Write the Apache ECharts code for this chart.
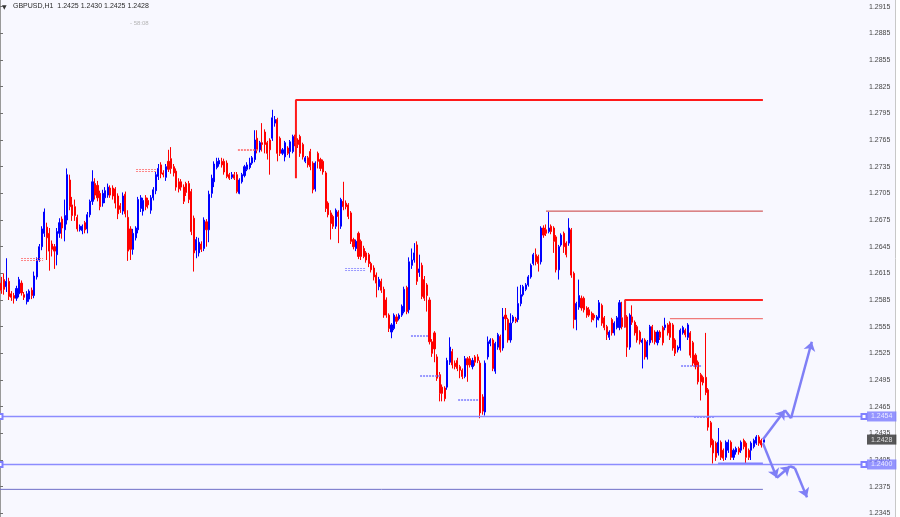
<!DOCTYPE html>
<html><head><meta charset="utf-8">
<script src="https://cdn.jsdelivr.net/npm/echarts@6/dist/echarts.min.js"></script>
<style>html,body{margin:0;padding:0;background:#f8f8ff}#c{width:900px;height:517px}</style>
</head><body><div id="c"></div>
<script>
// Candles as [open, close, low, high]
const seg1 = [
[1.2604,1.2596,1.2592,1.2611],[1.2608,1.2597,1.2591,1.2615],[1.2600,1.2606,1.2594,1.2632],[1.2606,1.2589,1.2585,1.2610],
[1.2592,1.2588,1.2584,1.2595],[1.2590,1.2587,1.2581,1.2593],[1.2587,1.2598,1.2584,1.2601],[1.2592,1.2608,1.2588,1.2611],
[1.2604,1.2593,1.2590,1.2607],[1.2591,1.2588,1.2585,1.2594],[1.2583,1.2592,1.2580,1.2595],[1.2586,1.2595,1.2583,1.2597],
[1.2596,1.2590,1.2586,1.2599],[1.2590,1.2612,1.2587,1.2617],[1.2611,1.2630,1.2608,1.2633],[1.2630,1.2645,1.2628,1.2648],
[1.2645,1.2665,1.2641,1.2668],[1.2660,1.2684,1.2656,1.2688],[1.2667,1.2655,1.2630,1.2672],[1.2660,1.2640,1.2618,1.2666],
[1.2648,1.2642,1.2634,1.2652],[1.2645,1.2640,1.2620,1.2648],[1.2636,1.2662,1.2624,1.2666],[1.2660,1.2672,1.2655,1.2677],
[1.2676,1.2666,1.2654,1.2679],[1.2664,1.2680,1.2651,1.2698],[1.2675,1.2726,1.2670,1.2733],[1.2720,1.2690,1.2686,1.2726],
[1.2692,1.2680,1.2674,1.2701],[1.2690,1.2680,1.2674,1.2698],[1.2678,1.2665,1.2662,1.2681],[1.2664,1.2668,1.2662,1.2670],
[1.2663,1.2668,1.2659,1.2670],[1.2672,1.2664,1.2660,1.2674],[1.2665,1.2681,1.2660,1.2684],[1.2681,1.2696,1.2678,1.2698],
[1.2696,1.2718,1.2692,1.2731],[1.2716,1.2703,1.2698,1.2722],[1.2714,1.2700,1.2696,1.2719],[1.2705,1.2690,1.2686,1.2708],
[1.2694,1.2705,1.2690,1.2709],[1.2700,1.2708,1.2694,1.2712],[1.2703,1.2712,1.2700,1.2716],[1.2711,1.2703,1.2700,1.2714],
[1.2711,1.2702,1.2698,1.2714],[1.2710,1.2694,1.2688,1.2712],[1.2702,1.2682,1.2676,1.2705],[1.2691,1.2687,1.2683,1.2694],
[1.2685,1.2702,1.2681,1.2706],[1.2704,1.2682,1.2678,1.2707],[1.2678,1.2640,1.2629,1.2686],[1.2665,1.2642,1.2630,1.2668],
[1.2642,1.2660,1.2636,1.2665],[1.2655,1.2666,1.2652,1.2668],[1.2664,1.2698,1.2660,1.2701],[1.2688,1.2700,1.2684,1.2703],
[1.2685,1.2697,1.2680,1.2700],[1.2700,1.2690,1.2686,1.2703],[1.2697,1.2692,1.2688,1.2700],[1.2686,1.2700,1.2682,1.2703],
[1.2700,1.2709,1.2697,1.2712],[1.2708,1.2726,1.2704,1.2729],[1.2724,1.2733,1.2720,1.2738],[1.2737,1.2727,1.2722,1.2740],
[1.2728,1.2726,1.2723,1.2731],[1.2723,1.2735,1.2719,1.2738],[1.2741,1.2732,1.2729,1.2754],[1.2744,1.2733,1.2727,1.2757],
[1.2735,1.2728,1.2724,1.2738],[1.2730,1.2712,1.2708,1.2733],[1.2718,1.2710,1.2706,1.2722],[1.2718,1.2712,1.2708,1.2721],
[1.2712,1.2696,1.2693,1.2715],[1.2716,1.2706,1.2702,1.2718],[1.2716,1.2698,1.2694,1.2719],[1.2707,1.2662,1.2658,1.2710],
[1.2677,1.2638,1.2617,1.2680],[1.2641,1.2653,1.2632,1.2656],[1.2638,1.2650,1.2634,1.2655],[1.2648,1.2642,1.2639,1.2651],
[1.2643,1.2675,1.2640,1.2678],[1.2673,1.2664,1.2645,1.2676],[1.2664,1.2704,1.2650,1.2708],[1.2705,1.2722,1.2700,1.2726],
[1.2718,1.2738,1.2712,1.2741],[1.2734,1.2741,1.2732,1.2745],[1.2738,1.2742,1.2735,1.2745]
];
const seg2 = [
[1.2741,1.2737,1.2734,1.2745],[1.2741,1.2729,1.2726,1.2744],[1.2739,1.2724,1.2722,1.2742],[1.2726,1.2722,1.2720,1.2728],
[1.2723,1.2726,1.2721,1.2729],[1.2726,1.2722,1.2720,1.2729],[1.2726,1.2707,1.2705,1.2729],[1.2705,1.2720,1.2704,1.2722],
[1.2718,1.2726,1.2716,1.2728],[1.2725,1.2735,1.2723,1.2737],[1.2732,1.2737,1.2730,1.2740],[1.2734,1.2739,1.2732,1.2745],
[1.2739,1.2745,1.2737,1.2747],[1.2743,1.2765,1.2740,1.2776],[1.2767,1.2754,1.2750,1.2776],[1.2754,1.2762,1.2751,1.2764],
[1.2762,1.2760,1.2752,1.2784],[1.2774,1.2760,1.2750,1.2777],[1.2762,1.2750,1.2743,1.2764],[1.2765,1.2754,1.2726,1.2767],
[1.2767,1.2790,1.2764,1.2799],[1.2784,1.2788,1.2780,1.2792],[1.2788,1.2750,1.2741,1.2790],[1.2767,1.2750,1.2747,1.2769],
[1.2750,1.2754,1.2748,1.2756],[1.2746,1.2762,1.2741,1.2764],[1.2756,1.2750,1.2748,1.2758],[1.2752,1.2763,1.2745,1.2765],
[1.2752,1.2769,1.2750,1.2771],[1.2769,1.2762,1.2758,1.2771],[1.2765,1.2760,1.2756,1.2767],[1.2769,1.2750,1.2746,1.2771],
[1.2760,1.2746,1.2743,1.2762],[1.2741,1.2745,1.2739,1.2747],[1.2745,1.2737,1.2734,1.2747],[1.2752,1.2735,1.2731,1.2755],
[1.2739,1.2709,1.2705,1.2741],[1.2710,1.2739,1.2707,1.2741],[1.2750,1.2741,1.2733,1.2752],[1.2743,1.2733,1.2730,1.2745],
[1.2741,1.2729,1.2726,1.2743],[1.2728,1.2688,1.2684,1.2730],[1.2694,1.2681,1.2678,1.2696],[1.2683,1.2671,1.2653,1.2686],
[1.2679,1.2668,1.2665,1.2681],[1.2668,1.2686,1.2665,1.2688],[1.2684,1.2679,1.2649,1.2686],[1.2668,1.2698,1.2665,1.2700],
[1.2696,1.2690,1.2686,1.2718],[1.2694,1.2690,1.2687,1.2697],[1.2692,1.2679,1.2676,1.2694],[1.2683,1.2651,1.2648,1.2685],
[1.2653,1.2645,1.2642,1.2655],[1.2643,1.2651,1.2640,1.2653],[1.2660,1.2634,1.2631,1.2662],[1.2651,1.2634,1.2630,1.2653],
[1.2643,1.2634,1.2632,1.2646],[1.2638,1.2630,1.2627,1.2640],[1.2636,1.2626,1.2622,1.2638],[1.2626,1.2619,1.2616,1.2628],
[1.2621,1.2611,1.2607,1.2624],[1.2613,1.2604,1.2588,1.2616],[1.2600,1.2608,1.2596,1.2611],[1.2606,1.2596,1.2593,1.2609]
];
const seg3 = [
[1.2597,1.2568,1.2565,1.2600],[1.2585,1.2568,1.2565,1.2588],[1.2568,1.2553,1.2549,1.2570],[1.2549,1.2557,1.2542,1.2559],
[1.2553,1.2568,1.2551,1.2570],[1.2566,1.2561,1.2558,1.2569],[1.2564,1.2568,1.2562,1.2570],[1.2568,1.2578,1.2566,1.2580],
[1.2572,1.2597,1.2570,1.2600],[1.2599,1.2572,1.2569,1.2601],[1.2574,1.2628,1.2570,1.2633],[1.2624,1.2630,1.2620,1.2643],
[1.2630,1.2638,1.2627,1.2649],[1.2647,1.2606,1.2602,1.2651],[1.2616,1.2620,1.2611,1.2636],[1.2624,1.2589,1.2586,1.2627],
[1.2608,1.2587,1.2584,1.2612],[1.2602,1.2590,1.2572,1.2604],[1.2585,1.2538,1.2535,1.2588],[1.2538,1.2525,1.2521,1.2541],
[1.2548,1.2530,1.2515,1.2550],[1.2521,1.2497,1.2494,1.2524],[1.2501,1.2480,1.2471,1.2504],[1.2487,1.2480,1.2471,1.2490],
[1.2486,1.2474,1.2471,1.2488],[1.2487,1.2517,1.2484,1.2520],[1.2515,1.2532,1.2512,1.2543],[1.2527,1.2512,1.2508,1.2530],
[1.2514,1.2510,1.2507,1.2517],[1.2517,1.2508,1.2505,1.2520],[1.2510,1.2506,1.2497,1.2512],[1.2506,1.2499,1.2496,1.2508],
[1.2499,1.2519,1.2497,1.2522],[1.2519,1.2512,1.2493,1.2521],[1.2519,1.2512,1.2509,1.2522],[1.2510,1.2517,1.2507,1.2520],
[1.2521,1.2515,1.2511,1.2523],[1.2521,1.2517,1.2514,1.2524],[1.2514,1.2458,1.2452,1.2517],[1.2476,1.2460,1.2456,1.2479],
[1.2459,1.2514,1.2455,1.2517],[1.2521,1.2538,1.2518,1.2544],[1.2536,1.2540,1.2533,1.2542],[1.2540,1.2508,1.2505,1.2542],
[1.2505,1.2536,1.2502,1.2538],[1.2532,1.2546,1.2529,1.2548],[1.2544,1.2529,1.2526,1.2546],[1.2531,1.2566,1.2528,1.2576],
[1.2568,1.2564,1.2551,1.2576],[1.2563,1.2540,1.2537,1.2565],[1.2540,1.2559,1.2537,1.2570],[1.2561,1.2566,1.2559,1.2568],
[1.2564,1.2561,1.2559,1.2566],[1.2563,1.2581,1.2560,1.2600],[1.2581,1.2591,1.2578,1.2602],[1.2591,1.2600,1.2589,1.2602],
[1.2597,1.2602,1.2595,1.2604],[1.2602,1.2611,1.2600,1.2613],[1.2611,1.2624,1.2609,1.2626],[1.2626,1.2636,1.2624,1.2638],
[1.2636,1.2628,1.2624,1.2643],[1.2634,1.2626,1.2617,1.2636],[1.2628,1.2666,1.2625,1.2668],[1.2666,1.2658,1.2655,1.2669],
[1.2664,1.2660,1.2657,1.2670],[1.2662,1.2666,1.2660,1.2684],[1.2668,1.2662,1.2659,1.2670],[1.2666,1.2651,1.2638,1.2668],
[1.2656,1.2619,1.2616,1.2658],[1.2619,1.2645,1.2608,1.2647],[1.2647,1.2658,1.2645,1.2660],[1.2660,1.2645,1.2638,1.2662],
[1.2649,1.2636,1.2633,1.2651],[1.2649,1.2666,1.2646,1.2677],[1.2664,1.2613,1.2610,1.2666],[1.2615,1.2563,1.2553,1.2617],
[1.2563,1.2581,1.2551,1.2583],[1.2577,1.2590,1.2574,1.2608]
];
const seg4 = [
[1.2587,1.2576,1.2573,1.2590],[1.2587,1.2574,1.2571,1.2589],[1.2576,1.2568,1.2565,1.2578],[1.2574,1.2568,1.2566,1.2577],
[1.2570,1.2563,1.2560,1.2572],[1.2568,1.2565,1.2562,1.2570],[1.2563,1.2566,1.2554,1.2568],[1.2565,1.2582,1.2562,1.2585],
[1.2579,1.2559,1.2556,1.2581],[1.2565,1.2554,1.2551,1.2567],[1.2555,1.2546,1.2540,1.2557],[1.2543,1.2549,1.2540,1.2551],
[1.2563,1.2548,1.2545,1.2565],[1.2548,1.2559,1.2545,1.2561],[1.2554,1.2565,1.2552,1.2567],[1.2554,1.2582,1.2551,1.2585],
[1.2565,1.2555,1.2552,1.2583],[1.2557,1.2566,1.2554,1.2568],[1.2566,1.2532,1.2521,1.2568],[1.2532,1.2568,1.2529,1.2570],
[1.2566,1.2560,1.2557,1.2579],[1.2560,1.2548,1.2545,1.2562],[1.2555,1.2540,1.2537,1.2557],[1.2549,1.2538,1.2535,1.2551],
[1.2537,1.2540,1.2508,1.2542],[1.2540,1.2521,1.2518,1.2542],[1.2521,1.2538,1.2518,1.2540],[1.2537,1.2555,1.2534,1.2557],
[1.2555,1.2540,1.2537,1.2557],[1.2549,1.2538,1.2535,1.2551],[1.2537,1.2549,1.2534,1.2551],[1.2549,1.2543,1.2540,1.2551],
[1.2554,1.2537,1.2534,1.2556],[1.2554,1.2557,1.2551,1.2565],[1.2557,1.2548,1.2545,1.2559],[1.2559,1.2543,1.2540,1.2561],
[1.2557,1.2531,1.2528,1.2559],[1.2540,1.2525,1.2522,1.2542],[1.2529,1.2532,1.2526,1.2534],[1.2531,1.2551,1.2528,1.2553],
[1.2548,1.2554,1.2546,1.2556],[1.2551,1.2546,1.2543,1.2553],[1.2543,1.2557,1.2540,1.2559],[1.2548,1.2523,1.2520,1.2550],
[1.2537,1.2514,1.2511,1.2539],[1.2523,1.2510,1.2507,1.2525],[1.2515,1.2493,1.2490,1.2517],[1.2501,1.2493,1.2472,1.2503],
[1.2498,1.2492,1.2489,1.2500],[1.2498,1.2481,1.2478,1.2548],[1.2484,1.2442,1.2438,1.2486],[1.2447,1.2422,1.2419,1.2449],
[1.2427,1.2413,1.2401,1.2429],[1.2424,1.2408,1.2404,1.2426],[1.2413,1.2425,1.2410,1.2441],[1.2425,1.2408,1.2405,1.2427],
[1.2416,1.2407,1.2404,1.2418],[1.2408,1.2425,1.2405,1.2427],[1.2416,1.2425,1.2413,1.2428],[1.2425,1.2408,1.2405,1.2427],
[1.2408,1.2416,1.2405,1.2418],[1.2414,1.2418,1.2411,1.2420],[1.2418,1.2414,1.2411,1.2420],[1.2416,1.2425,1.2413,1.2427],
[1.2427,1.2420,1.2417,1.2429],[1.2424,1.2408,1.2401,1.2426],[1.2416,1.2408,1.2405,1.2418],[1.2416,1.2424,1.2405,1.2426],
[1.2420,1.2427,1.2418,1.2429],[1.2424,1.2431,1.2422,1.2433],[1.2431,1.2424,1.2421,1.2433],[1.2427,1.2422,1.2419,1.2429],
[1.2425,1.2428,1.2425,1.2430]
];

const SLOT_COUNT = 341;             // bar slots across the plot (incl. empty right margin)
const priceTicks = [1.2345,1.2375,1.2405,1.2435,1.2465,1.2495,1.2525,1.2555,1.2585,1.2615,1.2645,1.2675,1.2705,1.2735,1.2765,1.2795,1.2825,1.2855,1.2885,1.2915];
const hLines = [1.2454, 1.2400];     // full-width horizontal lines
const lastPrice = 1.2428;
const headerText = 'GBPUSD,H1  1.2425 1.2430 1.2425 1.2428';

// level lines in [slot position, price]
const resist1 = [[116.8,1.2722],[116.8,1.2810],[301.1,1.2810]];
const resist2 = [[215.5,1.2685],[301.1,1.2685]];
const resist3 = [[246.7,1.2554],[246.7,1.2585],[301.1,1.2585]];
const resist4 = [[264.4,1.2564],[301.1,1.2564]];
const lowLine = [[0,1.2372],[301.1,1.2372]];
const supportSeg = [[283.4,1.2401],[301.1,1.2401]];
// projection arrows
const arrowSegs = [
  [[301.1,1.2428],[309.8,1.2461]],
  [[312.2,1.2452],[320.4,1.2538]],
  [[301.1,1.2424],[306.6,1.2385]],
  [[306.6,1.2385],[311.8,1.2398]],
  [[313.7,1.2396],[318.5,1.2363]]
];
const arrowLinks = [
  [[309.8,1.2461],[312.2,1.2452]],
  [[311.8,1.2398],[313.7,1.2396]]
];
// trade history marks [from, to, price, colour]
const tradeMarks = [
  [8.3,17.0,1.2631,'r'],[53.7,61.6,1.2731,'r'],[93.9,101.8,1.2754,'r'],
  [136.2,144.1,1.2620,'b'],[162.2,169.3,1.2545,'b'],[165.8,174.1,1.2500,'b'],
  [180.8,189.0,1.2473,'b'],[268.8,277.1,1.2511,'b'],[273.9,281.8,1.2454,'b']
];

const candles = seg1.concat(seg2, seg3, seg4);
const slots = Array.from({length: SLOT_COUNT}, (_, i) => String(i));
const markData = [];
tradeMarks.forEach(m => {
  [0.00008, -0.00010].forEach(d => markData.push({
    coords: [[m[0], m[2] + d], [m[1], m[2] + d]],
    lineStyle: {color: m[3] === 'r' ? '#ff6060' : '#7a7aff'}
  }));
});

function lvl(data, color, width) {
  return {type: 'line', xAxisIndex: 1, yAxisIndex: 0, data: data, symbol: 'none', silent: true,
    lineStyle: {color: color, width: width}, z: 5, animation: false};
}
function fullLine(p) {
  return {type: 'line', xAxisIndex: 1, yAxisIndex: 0, data: [[0, p], [SLOT_COUNT, p]], silent: true,
    symbol: 'emptyRect', symbolSize: 5, showSymbol: true, clip: false, z: 5,
    itemStyle: {color: '#8080ff', borderColor: '#7070ff', borderWidth: 1},
    lineStyle: {color: '#8c8cff', width: 1.5}};
}
const boxLabel = (bg) => ({show: true, position: 'right', distance: 3,
  formatter: p => p.value[1].toFixed(4),
  color: '#ffffff', backgroundColor: bg, padding: [2, 4, 1, 4], fontSize: 7, fontFamily: 'Liberation Sans'});

const chart = echarts.init(document.getElementById('c'));
chart.setOption({
  animation: false,
  backgroundColor: '#f8f8ff',
  grid: {left: 0, right: 36, top: 0, bottom: 0},
  xAxis: [
    {type: 'category', data: slots, boundaryGap: true, show: false},
    {type: 'value', min: 0, max: SLOT_COUNT, show: false}
  ],
  yAxis: {
    type: 'value', position: 'right', min: 1.23409, max: 1.29225,
    splitLine: {show: false},
    axisLine: {show: true, lineStyle: {color: '#9a9a9a', width: 2}},
    axisTick: {show: true, length: 3, customValues: priceTicks, lineStyle: {color: '#707070'}},
    axisLabel: {customValues: priceTicks, formatter: v => v.toFixed(4), fontSize: 7,
      color: '#474747', margin: 5, fontFamily: 'Liberation Sans'}
  },
  series: [
    {
      type: 'candlestick', data: candles, barWidth: 1.6,
      itemStyle: {color: '#0000ff', color0: '#ff0000', borderColor: '#0000ff', borderColor0: '#ff0000', borderWidth: 1}
    },
    lvl(resist1, '#ff1a1a', 2),
    lvl(resist2, '#c83a3a', 1),
    lvl(resist3, '#ff2020', 2),
    lvl(resist4, '#f07a7a', 1.2),
    lvl(lowLine, '#6e6ec8', 1),
    lvl(supportSeg, '#8080ff', 2.2),
    fullLine(hLines[0]),
    fullLine(hLines[1]),
    {type: 'scatter', xAxisIndex: 1, yAxisIndex: 0, symbolSize: 0, clip: false, silent: true, z: 8,
      data: [
        {value: [SLOT_COUNT, hLines[0]], label: boxLabel('#7b7bff')},
        {value: [SLOT_COUNT, hLines[1]], label: boxLabel('#7b7bff')},
        {value: [SLOT_COUNT, lastPrice], label: boxLabel('#2e2e2e')}
      ]},
    {type: 'lines', coordinateSystem: 'cartesian2d', xAxisIndex: 1, yAxisIndex: 0, silent: true, z: 6,
      symbol: ['none', 'arrow'], symbolSize: 9,
      lineStyle: {color: '#7f7ff6', width: 2.5, opacity: 1, curveness: 0},
      data: arrowSegs.map(s => ({coords: s}))},
    {type: 'lines', coordinateSystem: 'cartesian2d', xAxisIndex: 1, yAxisIndex: 0, silent: true, z: 6,
      symbol: 'none', lineStyle: {color: '#7f7ff6', width: 2.5, opacity: 1, curveness: 0},
      data: arrowLinks.map(s => ({coords: s}))},
    {type: 'lines', coordinateSystem: 'cartesian2d', xAxisIndex: 1, yAxisIndex: 0, silent: true, z: 4,
      symbol: 'none', lineStyle: {width: 1, opacity: 0.75, type: [2, 1], curveness: 0},
      data: markData}
  ],
  graphic: [
    {type: 'text', left: 2, top: 4, style: {text: '▼', font: '6px "DejaVu Sans"', fill: '#333'}},
    {type: 'text', left: 13, top: 3, style: {text: headerText, font: '7px "Liberation Sans"', fill: '#2a2a2a'}},
    {type: 'text', left: 130, top: 20, style: {text: '- 58:08', font: '6px "Liberation Sans"', fill: '#b5b5b5'}},
    {type: 'line', shape: {x1: 0.5, y1: 0, x2: 0.5, y2: 517}, style: {stroke: '#6a6a6a', lineWidth: 1}},
    {type: 'rect', shape: {x: 895, y: 0, width: 5, height: 517}, style: {fill: '#ffffff'}},
    {type: 'line', shape: {x1: 895.5, y1: 0, x2: 895.5, y2: 517}, style: {stroke: '#c8c8c8', lineWidth: 1}}
  ]
});
</script>
</body></html>
